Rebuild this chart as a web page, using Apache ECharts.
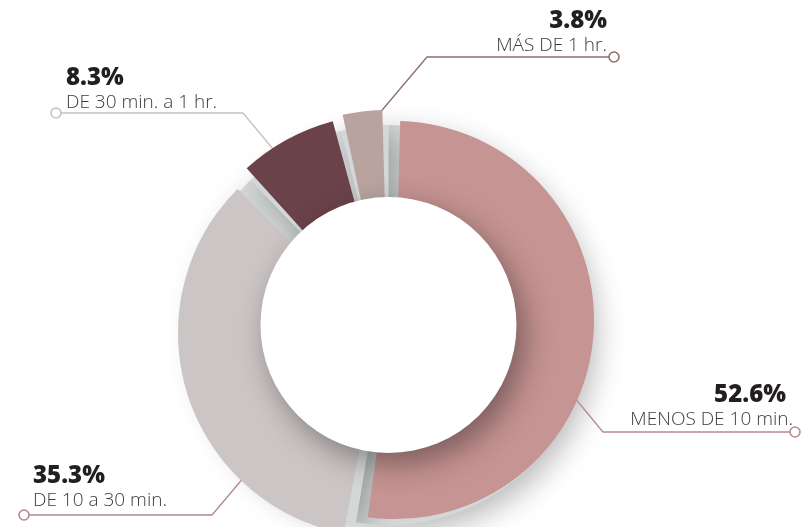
<!DOCTYPE html>
<html>
<head>
<meta charset="utf-8">
<script src="https://cdn.jsdelivr.net/npm/echarts@6/dist/echarts.min.js"></script>
<style>html,body{margin:0;padding:0;background:#fff;}#c{width:801px;height:527px;}</style>
</head>
<body>
<div id="c"></div>
<script>
// ---- data ----
const categories = ['MENOS DE 10 min.', 'DE 10 a 30 min.', 'DE 30 min. a 1 hr.', 'MÁS DE 1 hr.'];
const values = [52.6, 35.3, 8.3, 3.8];
const percentLabels = ['52.6%', '35.3%', '8.3%', '3.8%'];

// ---- styles / layout ----
const colors = ['#c69492', '#ccc5c6', '#6b424a', '#b8a39f'];
const centers = [[395, 320], [382, 333], [388, 325], [388, 325]];
const outerR = [199, 204, 211, 215];
const holeCenter = [388.5, 325];
const holeR = 128;
const labelConf = [
  { x: 793, y: 431, align: 'right', line: [[545, 362], [603, 432], [790, 432]], lineColor: '#b98c8f', dot: [795, 432], pPad: [0, 7, 0, 0] },
  { x: 33, y: 512, align: 'left', line: [[272, 444], [212, 515], [29, 515]], lineColor: '#b08a90', dot: [24, 515], pPad: [0, 0, 0, 0] },
  { x: 66, y: 114, align: 'left', line: [[303, 185], [243, 113], [61, 113]], lineColor: '#c9c0bf', dot: [56, 113], pPad: [0, 0, 0, 0] },
  { x: 607, y: 57, align: 'right', line: [[367, 128], [427, 57], [609, 57]], lineColor: '#8c6f6c', dot: [614, 57], pPad: [0, 0, 0, 0] }
];

const chart = echarts.init(document.getElementById('c'), null, { renderer: 'canvas' });

const series = [];
// base ring (gap colour + outer shadow)
series.push({
  type: 'pie', silent: true, z: 1,
  center: holeCenter, radius: [holeR - 10, 200], startAngle: 90,
  label: { show: false }, labelLine: { show: false },
  itemStyle: { color: '#d4d7d7', shadowBlur: 30, shadowColor: 'rgba(0,0,0,0.28)', shadowOffsetX: 8, shadowOffsetY: 8 },
  data: values.map((v, j) => ({ value: v, name: categories[j] }))
});

values.forEach((_, i) => {
  const L = labelConf[i];
  series.push({
    type: 'pie', silent: true, z: 2,
    center: centers[i], radius: [holeR - 20, outerR[i]], startAngle: 90, padAngle: 3,
    avoidLabelOverlap: false,
    data: values.map((v, j) => ({
      value: v, name: categories[j],
      itemStyle: { color: j === i ? colors[i] : 'rgba(0,0,0,0)' },
      label: { show: j === i },
      labelLine: { show: j === i, lineStyle: { color: L.lineColor, width: 1.3 } }
    })),
    label: {
      position: 'outside',
      formatter: () => '{p|' + percentLabels[i] + '}\n{n|' + categories[i] + '}',
      rich: {
        p: { fontFamily: 'Open Sans', fontWeight: 800, fontSize: 24, color: '#231f20', lineHeight: 26, padding: L.pPad },
        n: { fontFamily: 'Open Sans', fontWeight: 300, fontSize: 19, color: '#3b3b3b', lineHeight: 23 }
      }
    },
    labelLayout: (params) => params.dataIndex === i ? {
      x: L.x, y: L.y, align: L.align, verticalAlign: 'bottom', labelLinePoints: L.line
    } : {}
  });
});

const graphic = [{
  type: 'circle', z: 50, silent: true,
  shape: { cx: holeCenter[0], cy: holeCenter[1], r: holeR },
  style: { fill: '#ffffff', shadowBlur: 30, shadowColor: 'rgba(0,0,0,0.38)', shadowOffsetX: 8, shadowOffsetY: 11 }
}];
labelConf.forEach(L => {
  graphic.push({
    type: 'circle', z: 60, silent: true,
    shape: { cx: L.dot[0], cy: L.dot[1], r: 5 },
    style: { fill: '#ffffff', stroke: L.lineColor, lineWidth: 1.6 }
  });
});

chart.setOption({
  backgroundColor: '#ffffff',
  animation: false,
  series: series,
  graphic: graphic
});
</script>
</body>
</html>
